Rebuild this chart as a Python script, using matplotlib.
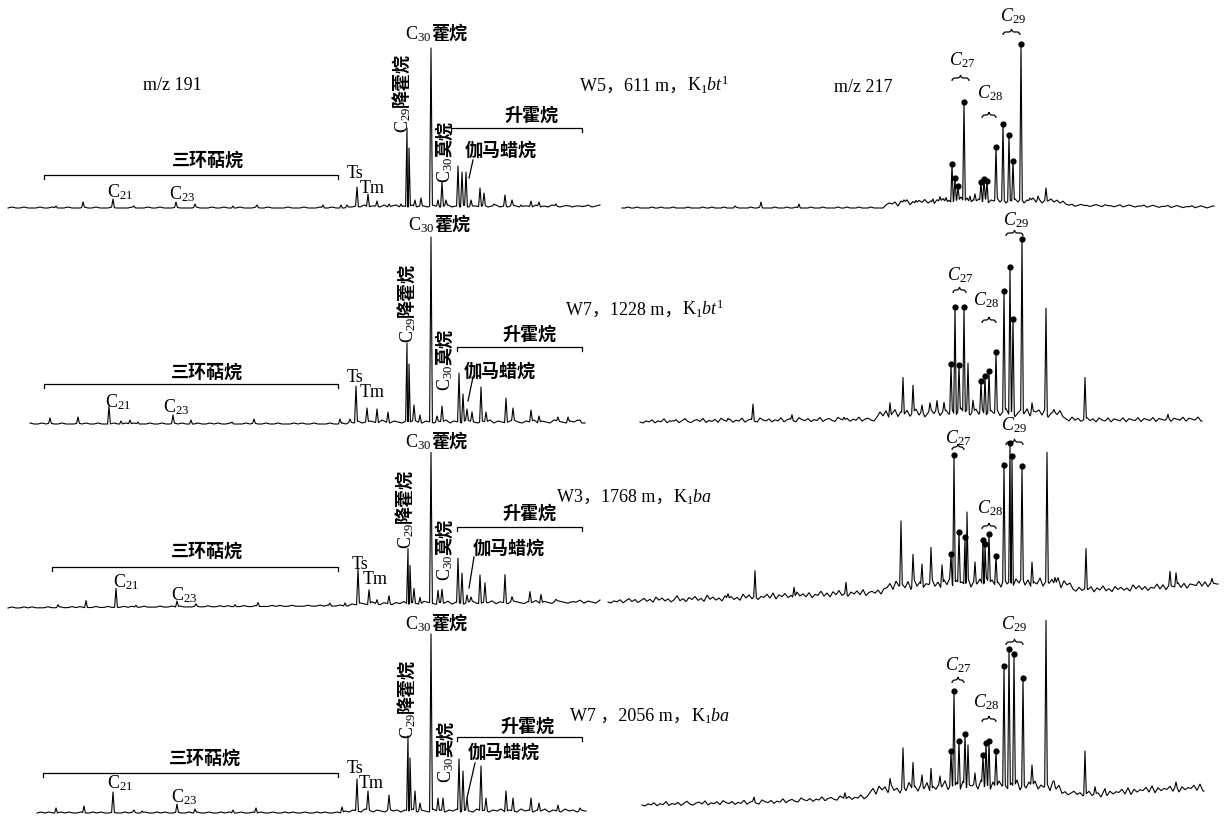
import numpy as np
import matplotlib
matplotlib.use('Agg')
import matplotlib.pyplot as plt
from matplotlib.path import Path
from matplotlib.patches import PathPatch

plt.rcParams['font.family'] = ['Liberation Serif', 'Noto Sans CJK SC', 'DejaVu Sans']
plt.rcParams['mathtext.fontset'] = 'custom'
plt.rcParams['mathtext.rm'] = 'Liberation Serif'
plt.rcParams['mathtext.it'] = 'Liberation Serif:italic'
plt.rcParams['mathtext.bf'] = 'Liberation Serif:bold'

W, H = 1226, 816

# ------------------------------------------------------------------ data
wells = ["W5，", "W7，", "W3，", "W7 ，"]
depths = ["611 m，", "1228 m，", "1768 m，", "2056 m，"]
formations = [r"K$_{1}\mathit{bt}^{1}$", r"K$_{1}\mathit{bt}^{1}$",
              r"K$_{1}\mathit{ba}$", r"K$_{1}\mathit{ba}$"]

# m/z 191 traces: peak retention positions / intensities, baseline grass
m191_w5_pos = [56, 83, 113, 134, 176, 195, 233, 257, 323, 341, 347, 357, 368, 377, 389, 401, 407, 409,
               415, 421, 431, 438, 442, 446, 458, 462, 466, 471, 480, 484, 494, 505, 512, 521, 531, 539,
               556, 568, 584]
m191_w5_int = [2, 6, 9, 2, 6, 4, 2, 3, 3, 3, 3, 21, 14, 7, 4, 4, 80, 60,
               8, 10, 160, 8, 26, 8, 42, 36, 36, 8, 20, 15, 4, 13, 8, 3, 7, 6,
               4, 2, 2]
m191_w5_grass = ("01001000100100010001001000100001000100100010000100010010001000100100001000100010010001"
                 "12131221312312131221321231213122131231213212213121321231221312312")

m191_w7a_pos = [50, 78, 109, 121, 130, 138, 173, 191, 232, 254, 340, 350, 356, 367, 377, 388, 407, 409,
                414, 420, 431, 437, 442, 459, 463, 467, 472, 481, 486, 506, 513, 531, 539, 558, 568, 580]
m191_w7a_int = [6, 7, 18, 3, 4, 2, 9, 4, 2, 5, 5, 5, 38, 16, 15, 12, 81, 60,
                19, 9, 187, 8, 18, 51, 30, 15, 12, 37, 12, 26, 16, 14, 8, 7, 7, 4]
m191_w7a_grass = ("10010100100010100100010010100010010010100010010100100010100100100010100100010010"
                  "21312321421321324213213241321432132413213421324132143213241321342")

m191_w3_pos = [58, 86, 116, 136, 177, 196, 235, 258, 330, 345, 358, 369, 377, 389, 408, 410, 414, 420,
               431, 438, 442, 458, 462, 467, 471, 480, 485, 505, 512, 530, 541, 556, 572]
m191_w3_int = [3, 7, 19, 2, 6, 3, 2, 4, 3, 3, 37, 16, 6, 10, 57, 40, 17, 8,
               153, 15, 16, 47, 32, 10, 8, 30, 22, 30, 8, 13, 10, 5, 2]
m191_w3_grass = ("01001010001001001010001001000101001000100101000100100101000100100010100100010010100100"
                 "21321421321324132143213241321342132413214321324132143213241321432")

m191_w7b_pos = [56, 84, 113, 134, 142, 177, 195, 233, 256, 342, 357, 368, 389, 408, 410, 415, 420,
                431, 438, 443, 459, 463, 467, 481, 486, 506, 513, 531, 539, 558, 580]
m191_w7b_int = [5, 7, 21, 3, 2, 9, 4, 3, 5, 6, 34, 22, 18, 77, 55, 22, 10,
                179, 15, 15, 54, 42, 15, 47, 15, 22, 15, 15, 10, 8, 5]
m191_w7b_grass = ("01010010100100101001001010010010100100101001001010010010100100101001001010010"
                  "21321431321423132413214231324132142313241321423132413214231324132")

# m/z 217 traces: other peaks, steranes (dotted), grass (hex digits)
m217_w5_pos = [735, 761, 799, 904, 916, 926, 933, 940, 946, 970, 975, 1030, 1038, 1046]
m217_w5_int = [2, 6, 4, 8, 7, 6, 8, 10, 9, 10, 12, 8, 10, 18]
m217_w5_ster_pos = [952, 955, 958, 964, 981, 984, 987, 996, 1003, 1009, 1013, 1021]
m217_w5_ster_int = [42, 28, 20, 104, 24, 27, 25, 59, 82, 71, 45, 162]
m217_w5_grass = ("0010010000100100010000100001001000100010000100100001000100100001000100001001000100010000"
                 "3546275836475846375846375948365748365847365748365847365746352"
                 "1201211012102110120121011201210112012101120121012010")

m217_w7a_pos = [673, 728, 753, 792, 844, 890, 903, 913, 922, 930, 937, 944, 968, 973, 1032, 1046, 1054, 1085, 1168]
m217_w7a_int = [3, 5, 19, 8, 5, 19, 44, 36, 16, 18, 20, 18, 57, 20, 18, 113, 12, 45, 8]
m217_w7a_ster_pos = [951, 955, 959, 964, 981, 985, 989, 996, 1004, 1010, 1013, 1022]
m217_w7a_ster_int = [56, 113, 55, 113, 39, 44, 49, 68, 130, 154, 102, 182]
m217_w7a_grass = ("2132413251324135213425132415324132513421532413251342153241325134215324132513421"
                  "5a6b48c5a7b59c6a48b7c59a6b48c7a59b6c48a7b59c6a48b7c5a9b6c48a7b5"
                  "3152413524153251432514325143251432514325143251432")

m217_w3_pos = [728, 755, 794, 846, 901, 913, 922, 931, 942, 967, 975, 1032, 1047, 1055, 1086, 1170, 1176, 1212]
m217_w3_int = [8, 30, 12, 15, 74, 40, 30, 46, 28, 80, 30, 30, 140, 15, 45, 20, 18, 10]
m217_w3_ster_pos = [951, 954, 959, 965, 983, 985, 989, 996, 1004, 1010, 1012, 1022]
m217_w3_ster_int = [38, 137, 60, 55, 52, 48, 58, 36, 127, 149, 136, 126]
m217_w3_grass = ("213241352413524163524137241536241735241635241736251436271536241735261437251637241536271453627"
                 "8c6e9b7d5f8c6a9e7b5d8f6c9a7e5b8d6f9c7a5e8b6d9f7c5a8e6b9d7f5c8a"
                 "4263547264835274635284736254837265483726548372654837265")

m217_w7b_pos = [754, 845, 890, 903, 913, 922, 931, 940, 968, 975, 1032, 1046, 1054, 1085, 1095, 1105, 1176]
m217_w7b_int = [8, 8, 20, 50, 35, 22, 28, 20, 50, 22, 30, 175, 15, 47, 12, 10, 12]
m217_w7b_ster_pos = [951, 954, 959, 965, 983, 986, 989, 996, 1004, 1009, 1014, 1023]
m217_w7b_ster_int = [44, 104, 54, 61, 40, 52, 54, 44, 129, 146, 141, 117]
m217_w7b_grass = ("2132413251324135213425132415324132513421532413251342153241325134215324132513"
                  "7b5d9c6e8a5c7f9b6d8e5a7c9f6b8d5e7a9c6f8b5d7e9a6c8f5b7d9e6a8c5f7b"
                  "3524635247356283746583927465839274658392746583927")

# baseline drift knots (retention position, rise)
m191_w5_drift = ([8, 600], [0, 0])
m191_w7a_drift = ([30, 585], [0, 0])
m191_w3_drift = ([8, 340, 600], [0, 2, 4])
m191_w7b_drift = ([37, 586], [0, 0])
m217_w5_drift = ([622, 900, 960, 1050, 1214], [0, 0, 2, 2, 0])
m217_w7a_drift = ([640, 880, 960, 1040, 1100, 1202], [0, 2, 4, 3, 1, 2])
m217_w3_drift = ([608, 720, 880, 960, 1040, 1100, 1160, 1218], [0, 2, 8, 12, 12, 10, 12, 16])
m217_w7b_drift = ([642, 760, 880, 960, 1040, 1100, 1150, 1204], [0, 2, 8, 12, 12, 8, 12, 14])

# ------------------------------------------------------------------ figure
fig = plt.figure(figsize=(W / 100, H / 100), dpi=100)
fig.patch.set_facecolor('white')


def build_trace(x0, x1, step, grass, pos, inten, drift, w=1.4):
    nv = np.array([int(c, 16) for c in grass], float)
    nx = x0 + step * np.arange(len(nv))
    keep = nx <= x1
    nx, nv = nx[keep], nv[keep]
    if nx[-1] < x1:
        nx = np.append(nx, x1)
        nv = np.append(nv, nv[-1])
    pos = np.asarray(pos, float)
    inten = np.asarray(inten, float)
    mask = np.ones(len(nx), bool)
    for p in pos:
        mask &= ~((nx > p - w) & (nx < p + w))
    fl = np.concatenate([pos - w, pos + w])
    x = np.concatenate([nx[mask], fl, pos])
    y = np.concatenate([nv[mask], np.interp(fl, nx, nv), inten])
    o = np.argsort(x, kind='stable')
    x, y = x[o], y[o]
    y = y + np.interp(x, drift[0], drift[1])
    return x, y


def trace_axes(x0, x1, base):
    ax = fig.add_axes([x0 / W, (H - base) / H, (x1 - x0) / W, 200 / H])
    ax.set_xlim(x0, x1)
    ax.set_ylim(0, 200)
    ax.axis('off')
    return ax


traces191 = [
    (8, 600, 208, m191_w5_grass, m191_w5_pos, m191_w5_int, m191_w5_drift),
    (30, 585, 424, m191_w7a_grass, m191_w7a_pos, m191_w7a_int, m191_w7a_drift),
    (8, 600, 608, m191_w3_grass, m191_w3_pos, m191_w3_int, m191_w3_drift),
    (37, 586, 813, m191_w7b_grass, m191_w7b_pos, m191_w7b_int, m191_w7b_drift),
]
for x0, x1, base, g, p, it, dr in traces191:
    ax = trace_axes(x0, x1, base)
    x, y = build_trace(x0, x1, 4, g, p, it, dr)
    ax.plot(x, y, color='k', lw=0.8, clip_on=False)

traces217 = [
    (622, 1214, 208, m217_w5_grass, m217_w5_pos, m217_w5_int, m217_w5_ster_pos, m217_w5_ster_int, m217_w5_drift),
    (640, 1202, 424, m217_w7a_grass, m217_w7a_pos, m217_w7a_int, m217_w7a_ster_pos, m217_w7a_ster_int, m217_w7a_drift),
    (608, 1218, 604, m217_w3_grass, m217_w3_pos, m217_w3_int, m217_w3_ster_pos, m217_w3_ster_int, m217_w3_drift),
    (642, 1204, 807, m217_w7b_grass, m217_w7b_pos, m217_w7b_int, m217_w7b_ster_pos, m217_w7b_ster_int, m217_w7b_drift),
]
for x0, x1, base, g, p, it, sp, si, dr in traces217:
    ax = trace_axes(x0, x1, base)
    x, y = build_trace(x0, x1, 3, g, list(p) + list(sp), list(it) + list(si), dr, w=1.3)
    ax.plot(x, y, color='k', lw=0.8, clip_on=False)
    sp = np.asarray(sp, float)
    ax.plot(sp, np.asarray(si, float) + np.interp(sp, dr[0], dr[1]), 'o', color='k',
            ms=4.5, mew=0, clip_on=False)

# ------------------------------------------------------------------ annotations
ov = fig.add_axes([0, 0, 1, 1])
ov.set_xlim(0, W)
ov.set_ylim(H, 0)
ov.axis('off')
ov.patch.set_alpha(0)
renderer = fig.canvas.get_renderer()

CJK = ['Noto Sans CJK SC', 'DejaVu Sans']
FS_L = 13
FS_C = 13


def hrun(x, y, pieces):
    cur = x
    for s, kw in pieces:
        t = ov.text(cur, y, s, ha='left', va='baseline', **kw)
        cur += t.get_window_extent(renderer).width


def vrun(x, y, pieces):
    cur = y
    for s, kw in pieces:
        t = ov.text(x, cur, s, rotation=90, rotation_mode='anchor', ha='left', va='baseline', **kw)
        cur -= t.get_window_extent(renderer).height


def bracket(xa, xb, y, tick=4):
    ov.plot([xa, xa, xb, xb], [y + tick, y, y, y + tick], color='k', lw=0.9)


def brace(xa, xb, yc, h=3.0):
    m = (xa + xb) / 2
    verts = [(xa, yc + h), (xa, yc), (xa + h, yc), (m - h, yc), (m, yc), (m, yc - h),
             (m, yc), (m + h, yc), (xb - h, yc), (xb, yc), (xb, yc + h)]
    codes = [Path.MOVETO, Path.CURVE3, Path.CURVE3, Path.LINETO, Path.CURVE3, Path.CURVE3,
             Path.CURVE3, Path.CURVE3, Path.LINETO, Path.CURVE3, Path.CURVE3]
    ov.add_patch(PathPatch(Path(verts, codes), fill=False, lw=0.9, ec='k'))


sub = dict(fontsize=FS_L)
cjk = dict(fontsize=FS_C, family=CJK, fontweight='bold')

layout191 = [
    dict(c30=(405, 39), c29v=(408, 133), c30v=(450, 183), sheng=(531, 115), sheng_br=(451, 582, 128),
         gama=(501, 150), ptr=((473, 160), (469, 178)), san=(208, 160), san_br=(44, 338, 175),
         c21=(107, 197), c23=(169, 199), ts=(347, 178), tm=(360, 193), wlab=(580, 91)),
    dict(c30=(408, 230), c29v=(413, 343), c30v=(450, 391), sheng=(529, 334), sheng_br=(457, 582, 347),
         gama=(500, 371), ptr=((473, 377), (468, 401)), san=(207, 372), san_br=(44, 338, 384),
         c21=(105, 407), c23=(163, 412), ts=(347, 382), tm=(360, 397), wlab=(566, 315)),
    dict(c30=(405, 447), c29v=(411, 549), c30v=(450, 581), sheng=(529, 513), sheng_br=(457, 582, 527),
         gama=(509, 548), ptr=((474, 557), (469, 588)), san=(207, 551), san_br=(52, 338, 567),
         c21=(113, 587), c23=(171, 600), ts=(352, 569), tm=(363, 584), wlab=(557, 502)),
    dict(c30=(405, 629), c29v=(413, 739), c30v=(451, 783), sheng=(527, 726), sheng_br=(457, 582, 737),
         gama=(504, 752), ptr=((475, 763), (467, 798)), san=(205, 758), san_br=(43, 338, 773),
         c21=(107, 788), c23=(171, 802), ts=(347, 773), tm=(359, 788), wlab=(570, 721)),
]

for i, L in enumerate(layout191):
    hrun(*L['c30'], [(r"C$_{30}$", sub), ("藿烷", cjk)])
    vrun(*L['c29v'], [(r"C$_{29}$", sub), ("降藿烷", cjk)])
    vrun(*L['c30v'], [(r"C$_{30}$", sub), ("莫烷", cjk)])
    ov.text(*L['sheng'], "升霍烷", ha='center', va='center', **cjk)
    bracket(*L['sheng_br'])
    ov.text(*L['gama'], "伽马蜡烷", ha='center', va='center', **cjk)
    (a, b), (c, d) = L['ptr']
    ov.plot([a, c], [b, d], color='k', lw=0.9)
    ov.text(*L['san'], "三环萜烷", ha='center', va='center', **cjk)
    bracket(*L['san_br'])
    ov.text(*L['c21'], r"C$_{21}$", ha='left', va='baseline', fontsize=FS_L)
    ov.text(*L['c23'], r"C$_{23}$", ha='left', va='baseline', fontsize=FS_L)
    ov.text(*L['ts'], "Ts", ha='left', va='baseline', fontsize=FS_L)
    ov.text(*L['tm'], "Tm", ha='left', va='baseline', fontsize=FS_L)
    hrun(*L['wlab'], [(wells[i] + depths[i], dict(fontsize=FS_L)), (formations[i], dict(fontsize=FS_L))])

ov.text(172, 85, "m/z 191", ha='center', va='center', fontsize=FS_L)
ov.text(863, 88, "m/z 217", ha='center', va='center', fontsize=FS_L)

layout217 = [
    [((962, 60), (952, 969, 78)), ((990, 93), (982, 996, 115)), ((1013, 16), (1003, 1020, 32))],
    [((960, 275), (953, 966, 290)), ((986, 300), (982, 996, 320)), ((1016, 220), (1006, 1023, 233))],
    [((958, 438), (952, 964, 447)), ((990, 508), (982, 996, 526)), ((1014, 425), (1006, 1023, 442))],
    [((958, 665), (952, 964, 680)), ((986, 702), (982, 996, 719)), ((1014, 624), (1006, 1023, 642))],
]
ster_labels = [r"$\mathit{C}_{\mathrm{27}}$", r"$\mathit{C}_{\mathrm{28}}$", r"$\mathit{C}_{\mathrm{29}}$"]
for row in layout217:
    for lab, ((tx, ty), br) in zip(ster_labels, row):
        ov.text(tx, ty, lab, ha='center', va='center', fontsize=FS_L)
        brace(*br)

fig.savefig('out.png', dpi=100, facecolor='white')
